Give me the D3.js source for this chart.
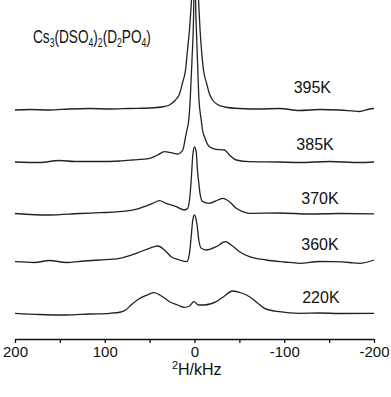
<!DOCTYPE html>
<html>
<head>
<meta charset="utf-8">
<script src="https://cdn.jsdelivr.net/npm/d3@7"></script>
<style>
  html, body { margin: 0; padding: 0; background: #fff; }
  svg { display: block; }
  text { font-family: "Liberation Sans", Arial, sans-serif; fill: #111; }
</style>
</head>
<body>
<div id="chart"></div>
<script>
// spectra: [frequency kHz, intensity]
const temps = ["395K", "385K", "370K", "360K", "220K"];
const offsets = [229.5, 177, 125.5, 77, 25];

const spec395 = [[200, -0.5], [183.8, 0], [161.6, -0.5], [139.3, 0.5], [117, 1], [94.7, 0.5], [72.4, 1], [50.1, 1.5],
  [33.4, 3], [27.9, 4.5], [21.2, 9.5], [16.7, 15.5], [13.4, 26.5], [10, 39.5], [7.8, 59.5], [5.6, 79.5], [3.3, 109.5],
  [0, 150], [-4.5, 109.5], [-6.2, 79.5], [-7.8, 59.5], [-10, 39.5], [-13.4, 26.5], [-16.7, 15.5], [-20.1, 9.5],
  [-25.6, 5], [-33.4, 2.5], [-50.1, 1], [-72.4, 0.5], [-94.7, 1], [-117, -1], [-139.3, 0], [-161.6, -0.5],
  [-183.8, -2], [-195, 0.5], [-200, 1]];

const spec385 = [[200, 0], [172.7, -0.5], [150.4, 1.5], [133.7, 0.5], [105.8, 0.5], [83.6, 1], [69.1, 2], [50.1, 3.7],
  [41.2, 7], [33.4, 10.3], [26, 9.3], [18.9, 8], [13, 12], [10, 25], [8.4, 32], [6.4, 42], [4.8, 62], [2.8, 102],
  [1.1, 142], [0, 200], [-1.7, 142], [-3.3, 102], [-5, 62], [-7.5, 42], [-8.9, 32], [-11.1, 25.3], [-16.7, 15.3],
  [-24.2, 12.7], [-33.4, 12], [-39, 7], [-46.5, 2], [-61.3, 0.3], [-94.7, 0], [-117, -0.5], [-150.4, 0.5],
  [-183.8, -0.5], [-200, 0]];

const spec370 = [[200, 0], [161.6, -1.5], [128.1, 0], [105.8, 0.8], [83.6, 1.8], [61.3, 5.2], [46.5, 10.2], [39, 12.8],
  [31.5, 10.2], [20.4, 6.8], [11.1, 3.5], [7.5, 5.2], [4.8, 20.2], [3.3, 38.5], [1.9, 58.5], [0, 66.5], [-1.9, 61.5],
  [-3.3, 43.5], [-4.8, 30.5], [-6.1, 20.2], [-9.2, 11.8], [-16.7, 10.2], [-26, 13.5], [-31.5, 15.2], [-39, 11.8],
  [-46.5, 5.2], [-53.8, 1.8], [-61.3, 0.2], [-94.7, 0.5], [-128.1, -0.5], [-161.6, 0], [-200, -0.3]];

const spec360 = [[200, 0.3], [178.3, -0.5], [161.6, 1.5], [143, -0.5], [122.6, 1], [105.8, 2], [83.6, 3.7], [65, 8.7],
  [50.1, 13.7], [40.9, 16], [33.4, 12], [26, 5.3], [16.7, 2], [8.6, 0.3], [5.6, 8.7], [3.7, 25.3], [1.9, 42], [0, 47],
  [-2.6, 38.7], [-4.8, 22], [-7.5, 13.7], [-13, 12], [-24.2, 15.3], [-34.5, 20.3], [-40.9, 17], [-50.1, 10.3],
  [-61.3, 5.3], [-79.9, 2], [-100.3, 0], [-117, -1.3], [-139.3, 0.5], [-153.8, 0.3], [-172.7, -0.5], [-183.8, -1.3],
  [-200, 2]];

const spec220 = [[200, 0.7], [172.7, -0.5], [143, -1], [117, 0], [94.7, 0.7], [82, 2], [76, 4.5], [70, 9.5],
  [62, 15], [54, 18.5], [45.3, 21.3], [36.8, 18], [27.9, 12.3], [18.9, 9], [11.1, 6.7], [5.6, 8], [0.6, 12.3], [-4.5, 9],
  [-11.1, 9], [-24.2, 12.3], [-33.4, 18], [-42.3, 23], [-52.4, 21], [-61.3, 17.3], [-70.2, 11], [-78, 5.7],
  [-94.7, 2.3], [-117, 0.7], [-139.3, 1], [-161.6, 0.5], [-200, 0.7]];

const spectra = [spec395, spec385, spec370, spec360, spec220];

const tickValues = [200, 150, 100, 50, 0, -50, -100, -150, -200];
const tickLabels = ["200", "", "100", "", "0", "", "-100", "", "-200"];

const width = 391, height = 397;

const svg = d3.select("#chart").append("svg")
  .attr("width", width)
  .attr("height", height);

const x = d3.scaleLinear().domain([200, -200]).range([15, 374]);
const y = d3.scaleLinear().domain([0, 339]).range([339, 0]);

// traces
spectra.forEach((data, i) => {
  const line = d3.line()
    .x(d => x(d[0]))
    .y(d => y(d[1] + offsets[i]))
    .curve(d3.curveMonotoneX);
  svg.append("path")
    .datum(data)
    .attr("d", line)
    .attr("fill", "none")
    .attr("stroke", "#222")
    .attr("stroke-width", 1.3)
    .attr("stroke-linejoin", "round");
});

// temperature labels
const labelAt = [-110.5, -113.5, -119, -119, -120];
const labelLift = [16.5, 12, 10, 12, 11];
svg.selectAll(".temp")
  .data(temps)
  .enter()
  .append("text")
  .attr("class", "temp")
  .attr("x", (d, i) => x(labelAt[i]))
  .attr("y", (d, i) => y(offsets[i]) - labelLift[i])
  .style("font-size", "16px")
  .text(d => d);

// x axis
const axis = d3.axisBottom(x)
  .tickValues(tickValues)
  .tickFormat((d, i) => tickLabels[i])
  .tickSizeInner(4)
  .tickSizeOuter(0)
  .tickPadding(3);

const gx = svg.append("g")
  .attr("transform", "translate(0," + y(0) + ")")
  .call(axis);
gx.select(".domain").attr("stroke", "#111").attr("stroke-width", 1.5);
gx.selectAll(".tick line").attr("stroke", "#111").attr("stroke-width", 1.3);
gx.selectAll(".tick text")
  .style("font-family", "'Liberation Sans', Arial, sans-serif")
  .style("font-size", "15px")
  .attr("fill", "#111");

const xlabel = svg.append("text")
  .attr("x", x(-2.5))
  .attr("y", 375)
  .attr("text-anchor", "middle")
  .style("font-size", "16px");
xlabel.append("tspan").attr("dy", -6).style("font-size", "11px").text("2");
xlabel.append("tspan").attr("dy", 6).text("H/kHz");

// compound name, squeezed to the width it has in the figure
const title = svg.append("text")
  .attr("transform", "translate(33,43)")
  .style("font-size", "19px");
const parts = [["Cs", 0], ["3", 1], ["(DSO", 0], ["4", 1], [")", 0], ["2", 1], ["(D", 0], ["2", 1], ["PO", 0], ["4", 1], [")", 0]];
let shifted = false;
parts.forEach(p => {
  const t = title.append("tspan").text(p[0]);
  if (p[1]) {
    t.style("font-size", "12px");
    if (!shifted) { t.attr("dy", 4); shifted = true; }
  } else if (shifted) {
    t.attr("dy", -4);
    shifted = false;
  }
});
const tw = title.node().getComputedTextLength();
title.attr("transform", "translate(33,43) scale(" + (118 / tw) + ",1)");
</script>
</body>
</html>
